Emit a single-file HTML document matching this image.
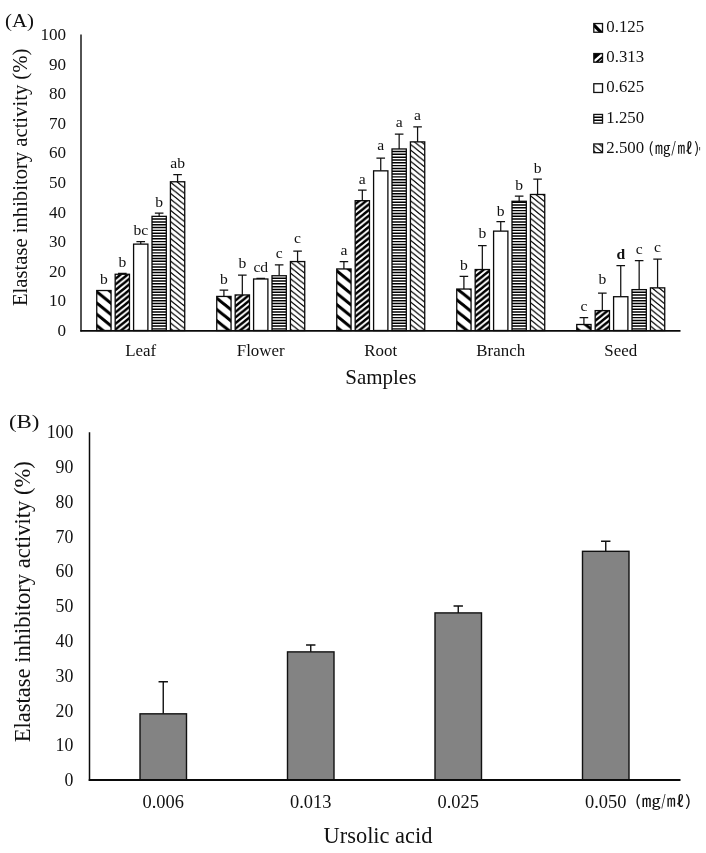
<!DOCTYPE html>
<html lang="en"><head><meta charset="utf-8"><title>Elastase inhibitory activity</title>
<style>
html,body{margin:0;padding:0;background:#fff;}
body{width:706px;height:853px;overflow:hidden;font-family:"Liberation Serif",serif;}
svg text{white-space:pre;}
</style></head><body>
<svg width="706" height="853" viewBox="0 0 706 853" style="display:block">
<defs>
<pattern id="p1" patternUnits="userSpaceOnUse" width="14.0" height="11.26"><rect width="14.0" height="11.26" fill="#fff"/><path d="M-14.00 -22.52 L28.00 11.26 M-14.00 -11.26 L28.00 22.52 M-14.00 0.00 L28.00 33.78" stroke="#000" stroke-width="3.1"/></pattern>
<pattern id="p2" patternUnits="userSpaceOnUse" width="7.0" height="5.63"><rect width="7.0" height="5.63" fill="#fff"/><path d="M-7.00 5.63 L14.00 -11.26 M-7.00 11.26 L14.00 -5.63 M-7.00 16.89 L14.00 0.00" stroke="#000" stroke-width="2.4"/></pattern>
<pattern id="p4" patternUnits="userSpaceOnUse" width="6" height="2.815"><rect width="6" height="2.815" fill="#fff"/><rect y="0.6" width="6" height="1.7" fill="#000"/></pattern>
<pattern id="p5" patternUnits="userSpaceOnUse" width="7.0" height="5.63"><rect width="7.0" height="5.63" fill="#fff"/><path d="M-7.00 -11.26 L14.00 5.63 M-7.00 -5.63 L14.00 11.26 M-7.00 0.00 L14.00 16.89" stroke="#000" stroke-width="1.25"/></pattern>
</defs>
<rect width="706" height="853" fill="#fff"/>
<g font-family='"Liberation Serif", serif' fill="#111">
<text x="5" y="26.6" font-size="18.6" textLength="29" lengthAdjust="spacingAndGlyphs">(A)</text>
<text x="9" y="427.6" font-size="18.6" textLength="30.5" lengthAdjust="spacingAndGlyphs">(B)</text>
<text x="66.1" y="335.70" font-size="17.1" text-anchor="end">0</text>
<text x="66.1" y="306.15" font-size="17.1" text-anchor="end">10</text>
<text x="66.1" y="276.60" font-size="17.1" text-anchor="end">20</text>
<text x="66.1" y="247.05" font-size="17.1" text-anchor="end">30</text>
<text x="66.1" y="217.50" font-size="17.1" text-anchor="end">40</text>
<text x="66.1" y="187.95" font-size="17.1" text-anchor="end">50</text>
<text x="66.1" y="158.40" font-size="17.1" text-anchor="end">60</text>
<text x="66.1" y="128.85" font-size="17.1" text-anchor="end">70</text>
<text x="66.1" y="99.30" font-size="17.1" text-anchor="end">80</text>
<text x="66.1" y="69.75" font-size="17.1" text-anchor="end">90</text>
<text x="66.1" y="40.20" font-size="17.1" text-anchor="end">100</text>
<text transform="translate(26.8,306) rotate(-90)" font-size="20.6" textLength="257.3" lengthAdjust="spacingAndGlyphs">Elastase inhibitory activity (%)</text>
<rect x="96.75" y="290.52" width="14.3" height="39.98" fill="url(#p1)" stroke="#0a0a0a" stroke-width="1.3"/>
<text x="103.90" y="284.17" font-size="15.6" text-anchor="middle">b</text>
<path d="M122.32 274.26 V273.33 M118.02 273.33 H126.62" stroke="#111" stroke-width="1.25" fill="none"/>
<rect x="115.17" y="274.26" width="14.3" height="56.24" fill="url(#p2)" stroke="#0a0a0a" stroke-width="1.3"/>
<text x="122.32" y="267.03" font-size="15.6" text-anchor="middle">b</text>
<path d="M140.74 244.12 V241.71 M136.44 241.71 H145.04" stroke="#111" stroke-width="1.25" fill="none"/>
<rect x="133.59" y="244.12" width="14.3" height="86.38" fill="#fff" stroke="#0a0a0a" stroke-width="1.3"/>
<text x="140.74" y="235.41" font-size="15.6" text-anchor="middle">bc</text>
<path d="M159.16 216.35 V213.05 M154.86 213.05 H163.46" stroke="#111" stroke-width="1.25" fill="none"/>
<rect x="152.01" y="216.35" width="14.3" height="114.15" fill="#fff"/>
<path d="M152.01 328.15h14.3v1.45h-14.3zM152.01 325.34h14.3v1.45h-14.3zM152.01 322.52h14.3v1.45h-14.3zM152.01 319.71h14.3v1.45h-14.3zM152.01 316.89h14.3v1.45h-14.3zM152.01 314.08h14.3v1.45h-14.3zM152.01 311.26h14.3v1.45h-14.3zM152.01 308.45h14.3v1.45h-14.3zM152.01 305.63h14.3v1.45h-14.3zM152.01 302.82h14.3v1.45h-14.3zM152.01 300.00h14.3v1.45h-14.3zM152.01 297.19h14.3v1.45h-14.3zM152.01 294.37h14.3v1.45h-14.3zM152.01 291.56h14.3v1.45h-14.3zM152.01 288.74h14.3v1.45h-14.3zM152.01 285.93h14.3v1.45h-14.3zM152.01 283.11h14.3v1.45h-14.3zM152.01 280.30h14.3v1.45h-14.3zM152.01 277.48h14.3v1.45h-14.3zM152.01 274.67h14.3v1.45h-14.3zM152.01 271.85h14.3v1.45h-14.3zM152.01 269.04h14.3v1.45h-14.3zM152.01 266.22h14.3v1.45h-14.3zM152.01 263.41h14.3v1.45h-14.3zM152.01 260.59h14.3v1.45h-14.3zM152.01 257.78h14.3v1.45h-14.3zM152.01 254.96h14.3v1.45h-14.3zM152.01 252.15h14.3v1.45h-14.3zM152.01 249.33h14.3v1.45h-14.3zM152.01 246.52h14.3v1.45h-14.3zM152.01 243.70h14.3v1.45h-14.3zM152.01 240.89h14.3v1.45h-14.3zM152.01 238.07h14.3v1.45h-14.3zM152.01 235.26h14.3v1.45h-14.3zM152.01 232.44h14.3v1.45h-14.3zM152.01 229.63h14.3v1.45h-14.3zM152.01 226.81h14.3v1.45h-14.3zM152.01 224.00h14.3v1.45h-14.3zM152.01 221.18h14.3v1.45h-14.3zM152.01 218.37h14.3v1.45h-14.3z" fill="#000"/>
<rect x="152.01" y="216.35" width="14.3" height="114.15" fill="none" stroke="#0a0a0a" stroke-width="1.3"/>
<text x="159.16" y="206.75" font-size="15.6" text-anchor="middle">b</text>
<path d="M177.58 181.77 V174.63 M173.28 174.63 H181.88" stroke="#111" stroke-width="1.25" fill="none"/>
<rect x="170.43" y="181.77" width="14.3" height="148.73" fill="url(#p5)" stroke="#0a0a0a" stroke-width="1.3"/>
<text x="177.58" y="167.73" font-size="15.6" text-anchor="middle">ab</text>
<text x="140.70" y="356.3" font-size="16.9" text-anchor="middle">Leaf</text>
<path d="M223.90 296.43 V290.17 M219.60 290.17 H228.20" stroke="#111" stroke-width="1.25" fill="none"/>
<rect x="216.75" y="296.43" width="14.3" height="34.07" fill="url(#p1)" stroke="#0a0a0a" stroke-width="1.3"/>
<text x="223.90" y="283.87" font-size="15.6" text-anchor="middle">b</text>
<path d="M242.32 294.95 V275.10 M238.02 275.10 H246.62" stroke="#111" stroke-width="1.25" fill="none"/>
<rect x="235.17" y="294.95" width="14.3" height="35.55" fill="url(#p2)" stroke="#0a0a0a" stroke-width="1.3"/>
<text x="242.32" y="267.50" font-size="15.6" text-anchor="middle">b</text>
<path d="M260.74 278.99 V278.35 M256.44 278.35 H265.04" stroke="#111" stroke-width="1.25" fill="none"/>
<rect x="253.59" y="278.99" width="14.3" height="51.51" fill="#fff" stroke="#0a0a0a" stroke-width="1.3"/>
<text x="260.74" y="272.05" font-size="15.6" text-anchor="middle">cd</text>
<path d="M279.16 275.74 V264.76 M274.86 264.76 H283.46" stroke="#111" stroke-width="1.25" fill="none"/>
<rect x="272.01" y="275.74" width="14.3" height="54.76" fill="#fff"/>
<path d="M272.01 328.15h14.3v1.45h-14.3zM272.01 325.34h14.3v1.45h-14.3zM272.01 322.52h14.3v1.45h-14.3zM272.01 319.71h14.3v1.45h-14.3zM272.01 316.89h14.3v1.45h-14.3zM272.01 314.08h14.3v1.45h-14.3zM272.01 311.26h14.3v1.45h-14.3zM272.01 308.45h14.3v1.45h-14.3zM272.01 305.63h14.3v1.45h-14.3zM272.01 302.82h14.3v1.45h-14.3zM272.01 300.00h14.3v1.45h-14.3zM272.01 297.19h14.3v1.45h-14.3zM272.01 294.37h14.3v1.45h-14.3zM272.01 291.56h14.3v1.45h-14.3zM272.01 288.74h14.3v1.45h-14.3zM272.01 285.93h14.3v1.45h-14.3zM272.01 283.11h14.3v1.45h-14.3zM272.01 280.30h14.3v1.45h-14.3zM272.01 277.48h14.3v1.45h-14.3z" fill="#000"/>
<rect x="272.01" y="275.74" width="14.3" height="54.76" fill="none" stroke="#0a0a0a" stroke-width="1.3"/>
<text x="279.16" y="257.86" font-size="15.6" text-anchor="middle">c</text>
<path d="M297.58 261.56 V251.16 M293.28 251.16 H301.88" stroke="#111" stroke-width="1.25" fill="none"/>
<rect x="290.43" y="261.56" width="14.3" height="68.94" fill="url(#p5)" stroke="#0a0a0a" stroke-width="1.3"/>
<text x="297.58" y="243.36" font-size="15.6" text-anchor="middle">c</text>
<text x="260.70" y="356.3" font-size="16.9" text-anchor="middle">Flower</text>
<path d="M343.90 268.94 V261.51 M339.60 261.51 H348.20" stroke="#111" stroke-width="1.25" fill="none"/>
<rect x="336.75" y="268.94" width="14.3" height="61.56" fill="url(#p1)" stroke="#0a0a0a" stroke-width="1.3"/>
<text x="343.90" y="255.21" font-size="15.6" text-anchor="middle">a</text>
<path d="M362.32 200.68 V190.00 M358.02 190.00 H366.62" stroke="#111" stroke-width="1.25" fill="none"/>
<rect x="355.17" y="200.68" width="14.3" height="129.82" fill="url(#p2)" stroke="#0a0a0a" stroke-width="1.3"/>
<text x="362.32" y="183.70" font-size="15.6" text-anchor="middle">a</text>
<path d="M380.74 170.84 V158.08 M376.44 158.08 H385.04" stroke="#111" stroke-width="1.25" fill="none"/>
<rect x="373.59" y="170.84" width="14.3" height="159.66" fill="#fff" stroke="#0a0a0a" stroke-width="1.3"/>
<text x="380.74" y="149.58" font-size="15.6" text-anchor="middle">a</text>
<path d="M399.16 148.97 V134.15 M394.86 134.15 H403.46" stroke="#111" stroke-width="1.25" fill="none"/>
<rect x="392.01" y="148.97" width="14.3" height="181.53" fill="#fff"/>
<path d="M392.01 328.15h14.3v1.45h-14.3zM392.01 325.34h14.3v1.45h-14.3zM392.01 322.52h14.3v1.45h-14.3zM392.01 319.71h14.3v1.45h-14.3zM392.01 316.89h14.3v1.45h-14.3zM392.01 314.08h14.3v1.45h-14.3zM392.01 311.26h14.3v1.45h-14.3zM392.01 308.45h14.3v1.45h-14.3zM392.01 305.63h14.3v1.45h-14.3zM392.01 302.82h14.3v1.45h-14.3zM392.01 300.00h14.3v1.45h-14.3zM392.01 297.19h14.3v1.45h-14.3zM392.01 294.37h14.3v1.45h-14.3zM392.01 291.56h14.3v1.45h-14.3zM392.01 288.74h14.3v1.45h-14.3zM392.01 285.93h14.3v1.45h-14.3zM392.01 283.11h14.3v1.45h-14.3zM392.01 280.30h14.3v1.45h-14.3zM392.01 277.48h14.3v1.45h-14.3zM392.01 274.67h14.3v1.45h-14.3zM392.01 271.85h14.3v1.45h-14.3zM392.01 269.04h14.3v1.45h-14.3zM392.01 266.22h14.3v1.45h-14.3zM392.01 263.41h14.3v1.45h-14.3zM392.01 260.59h14.3v1.45h-14.3zM392.01 257.78h14.3v1.45h-14.3zM392.01 254.96h14.3v1.45h-14.3zM392.01 252.15h14.3v1.45h-14.3zM392.01 249.33h14.3v1.45h-14.3zM392.01 246.52h14.3v1.45h-14.3zM392.01 243.70h14.3v1.45h-14.3zM392.01 240.89h14.3v1.45h-14.3zM392.01 238.07h14.3v1.45h-14.3zM392.01 235.26h14.3v1.45h-14.3zM392.01 232.44h14.3v1.45h-14.3zM392.01 229.63h14.3v1.45h-14.3zM392.01 226.81h14.3v1.45h-14.3zM392.01 224.00h14.3v1.45h-14.3zM392.01 221.18h14.3v1.45h-14.3zM392.01 218.37h14.3v1.45h-14.3zM392.01 215.55h14.3v1.45h-14.3zM392.01 212.74h14.3v1.45h-14.3zM392.01 209.92h14.3v1.45h-14.3zM392.01 207.11h14.3v1.45h-14.3zM392.01 204.29h14.3v1.45h-14.3zM392.01 201.48h14.3v1.45h-14.3zM392.01 198.66h14.3v1.45h-14.3zM392.01 195.85h14.3v1.45h-14.3zM392.01 193.03h14.3v1.45h-14.3zM392.01 190.22h14.3v1.45h-14.3zM392.01 187.40h14.3v1.45h-14.3zM392.01 184.59h14.3v1.45h-14.3zM392.01 181.77h14.3v1.45h-14.3zM392.01 178.96h14.3v1.45h-14.3zM392.01 176.14h14.3v1.45h-14.3zM392.01 173.33h14.3v1.45h-14.3zM392.01 170.51h14.3v1.45h-14.3zM392.01 167.70h14.3v1.45h-14.3zM392.01 164.88h14.3v1.45h-14.3zM392.01 162.07h14.3v1.45h-14.3zM392.01 159.25h14.3v1.45h-14.3zM392.01 156.44h14.3v1.45h-14.3zM392.01 153.62h14.3v1.45h-14.3zM392.01 150.81h14.3v1.45h-14.3z" fill="#000"/>
<rect x="392.01" y="148.97" width="14.3" height="181.53" fill="none" stroke="#0a0a0a" stroke-width="1.3"/>
<text x="399.16" y="127.35" font-size="15.6" text-anchor="middle">a</text>
<path d="M417.58 141.88 V126.76 M413.28 126.76 H421.88" stroke="#111" stroke-width="1.25" fill="none"/>
<rect x="410.43" y="141.88" width="14.3" height="188.62" fill="url(#p5)" stroke="#0a0a0a" stroke-width="1.3"/>
<text x="417.58" y="120.46" font-size="15.6" text-anchor="middle">a</text>
<text x="380.70" y="356.3" font-size="16.9" text-anchor="middle">Root</text>
<path d="M463.90 289.04 V276.28 M459.60 276.28 H468.20" stroke="#111" stroke-width="1.25" fill="none"/>
<rect x="456.75" y="289.04" width="14.3" height="41.46" fill="url(#p1)" stroke="#0a0a0a" stroke-width="1.3"/>
<text x="463.90" y="269.98" font-size="15.6" text-anchor="middle">b</text>
<path d="M482.32 269.54 V245.55 M478.02 245.55 H486.62" stroke="#111" stroke-width="1.25" fill="none"/>
<rect x="475.17" y="269.54" width="14.3" height="60.96" fill="url(#p2)" stroke="#0a0a0a" stroke-width="1.3"/>
<text x="482.32" y="238.05" font-size="15.6" text-anchor="middle">b</text>
<path d="M500.74 231.12 V221.61 M496.44 221.61 H505.04" stroke="#111" stroke-width="1.25" fill="none"/>
<rect x="493.59" y="231.12" width="14.3" height="99.38" fill="#fff" stroke="#0a0a0a" stroke-width="1.3"/>
<text x="500.74" y="215.91" font-size="15.6" text-anchor="middle">b</text>
<path d="M519.16 201.28 V196.20 M514.86 196.20 H523.46" stroke="#111" stroke-width="1.25" fill="none"/>
<rect x="512.01" y="201.28" width="14.3" height="129.22" fill="#fff"/>
<path d="M512.01 328.15h14.3v1.45h-14.3zM512.01 325.34h14.3v1.45h-14.3zM512.01 322.52h14.3v1.45h-14.3zM512.01 319.71h14.3v1.45h-14.3zM512.01 316.89h14.3v1.45h-14.3zM512.01 314.08h14.3v1.45h-14.3zM512.01 311.26h14.3v1.45h-14.3zM512.01 308.45h14.3v1.45h-14.3zM512.01 305.63h14.3v1.45h-14.3zM512.01 302.82h14.3v1.45h-14.3zM512.01 300.00h14.3v1.45h-14.3zM512.01 297.19h14.3v1.45h-14.3zM512.01 294.37h14.3v1.45h-14.3zM512.01 291.56h14.3v1.45h-14.3zM512.01 288.74h14.3v1.45h-14.3zM512.01 285.93h14.3v1.45h-14.3zM512.01 283.11h14.3v1.45h-14.3zM512.01 280.30h14.3v1.45h-14.3zM512.01 277.48h14.3v1.45h-14.3zM512.01 274.67h14.3v1.45h-14.3zM512.01 271.85h14.3v1.45h-14.3zM512.01 269.04h14.3v1.45h-14.3zM512.01 266.22h14.3v1.45h-14.3zM512.01 263.41h14.3v1.45h-14.3zM512.01 260.59h14.3v1.45h-14.3zM512.01 257.78h14.3v1.45h-14.3zM512.01 254.96h14.3v1.45h-14.3zM512.01 252.15h14.3v1.45h-14.3zM512.01 249.33h14.3v1.45h-14.3zM512.01 246.52h14.3v1.45h-14.3zM512.01 243.70h14.3v1.45h-14.3zM512.01 240.89h14.3v1.45h-14.3zM512.01 238.07h14.3v1.45h-14.3zM512.01 235.26h14.3v1.45h-14.3zM512.01 232.44h14.3v1.45h-14.3zM512.01 229.63h14.3v1.45h-14.3zM512.01 226.81h14.3v1.45h-14.3zM512.01 224.00h14.3v1.45h-14.3zM512.01 221.18h14.3v1.45h-14.3zM512.01 218.37h14.3v1.45h-14.3zM512.01 215.55h14.3v1.45h-14.3zM512.01 212.74h14.3v1.45h-14.3zM512.01 209.92h14.3v1.45h-14.3zM512.01 207.11h14.3v1.45h-14.3zM512.01 204.29h14.3v1.45h-14.3zM512.01 201.48h14.3v1.45h-14.3z" fill="#000"/>
<rect x="512.01" y="201.28" width="14.3" height="129.22" fill="none" stroke="#0a0a0a" stroke-width="1.3"/>
<text x="519.16" y="189.90" font-size="15.6" text-anchor="middle">b</text>
<path d="M537.58 194.48 V179.06 M533.28 179.06 H541.88" stroke="#111" stroke-width="1.25" fill="none"/>
<rect x="530.43" y="194.48" width="14.3" height="136.02" fill="url(#p5)" stroke="#0a0a0a" stroke-width="1.3"/>
<text x="537.58" y="172.76" font-size="15.6" text-anchor="middle">b</text>
<text x="500.70" y="356.3" font-size="16.9" text-anchor="middle">Branch</text>
<path d="M583.90 324.50 V317.65 M579.60 317.65 H588.20" stroke="#111" stroke-width="1.25" fill="none"/>
<rect x="576.75" y="324.50" width="14.3" height="6.00" fill="url(#p1)" stroke="#0a0a0a" stroke-width="1.3"/>
<text x="583.90" y="311.35" font-size="15.6" text-anchor="middle">c</text>
<path d="M602.32 310.61 V293.13 M598.02 293.13 H606.62" stroke="#111" stroke-width="1.25" fill="none"/>
<rect x="595.17" y="310.61" width="14.3" height="19.89" fill="url(#p2)" stroke="#0a0a0a" stroke-width="1.3"/>
<text x="602.32" y="283.53" font-size="15.6" text-anchor="middle">b</text>
<path d="M620.74 296.72 V265.50 M616.44 265.50 H625.04" stroke="#111" stroke-width="1.25" fill="none"/>
<rect x="613.59" y="296.72" width="14.3" height="33.78" fill="#fff" stroke="#0a0a0a" stroke-width="1.3"/>
<text x="620.74" y="259.20" font-size="15.6" text-anchor="middle" font-weight="bold">d</text>
<path d="M639.16 289.63 V260.62 M634.86 260.62 H643.46" stroke="#111" stroke-width="1.25" fill="none"/>
<rect x="632.01" y="289.63" width="14.3" height="40.87" fill="#fff"/>
<path d="M632.01 328.15h14.3v1.45h-14.3zM632.01 325.34h14.3v1.45h-14.3zM632.01 322.52h14.3v1.45h-14.3zM632.01 319.71h14.3v1.45h-14.3zM632.01 316.89h14.3v1.45h-14.3zM632.01 314.08h14.3v1.45h-14.3zM632.01 311.26h14.3v1.45h-14.3zM632.01 308.45h14.3v1.45h-14.3zM632.01 305.63h14.3v1.45h-14.3zM632.01 302.82h14.3v1.45h-14.3zM632.01 300.00h14.3v1.45h-14.3zM632.01 297.19h14.3v1.45h-14.3zM632.01 294.37h14.3v1.45h-14.3zM632.01 291.56h14.3v1.45h-14.3z" fill="#000"/>
<rect x="632.01" y="289.63" width="14.3" height="40.87" fill="none" stroke="#0a0a0a" stroke-width="1.3"/>
<text x="639.16" y="254.32" font-size="15.6" text-anchor="middle">c</text>
<path d="M657.58 287.86 V259.00 M653.28 259.00 H661.88" stroke="#111" stroke-width="1.25" fill="none"/>
<rect x="650.43" y="287.86" width="14.3" height="42.64" fill="url(#p5)" stroke="#0a0a0a" stroke-width="1.3"/>
<text x="657.58" y="251.90" font-size="15.6" text-anchor="middle">c</text>
<text x="620.70" y="356.3" font-size="16.9" text-anchor="middle">Seed</text>
<path d="M81.0 34.5 V331.4" stroke="#0a0a0a" stroke-width="1.4" fill="none"/>
<path d="M80.3 330.9 H680.5" stroke="#0a0a0a" stroke-width="1.8" fill="none"/>
<text x="380.8" y="384.2" font-size="21" text-anchor="middle">Samples</text>
<svg x="593.8" y="23.55" width="8.7" height="8.7" viewBox="0 0 8.7 8.7" overflow="hidden"><rect width="8.7" height="8.7" fill="#fff"/><path d="M-1 0.5L9.7 11.2" stroke="#000" stroke-width="3.3"/></svg>
<rect x="593.8" y="23.55" width="8.7" height="8.7" fill="none" stroke="#111" stroke-width="1.3"/>
<text x="606.3" y="31.90" font-size="16.8">0.125</text>
<svg x="593.8" y="53.55" width="8.7" height="8.7" viewBox="0 0 8.7 8.7" overflow="hidden"><rect width="8.7" height="8.7" fill="#000"/><path d="M0.3 7.799999999999999L8.399999999999999 0.9" stroke="#fff" stroke-width="2.3"/><path d="M5.1 8.299999999999999L8.299999999999999 5.499999999999999" stroke="#ddd" stroke-width="1.1"/></svg>
<rect x="593.8" y="53.55" width="8.7" height="8.7" fill="none" stroke="#111" stroke-width="1.3"/>
<text x="606.3" y="61.90" font-size="16.8">0.313</text>
<rect x="593.8" y="83.75" width="8.7" height="8.7" fill="#fff" stroke="#111" stroke-width="1.3"/>
<text x="606.3" y="92.40" font-size="16.8">0.625</text>
<rect x="593.8" y="114.45" width="8.7" height="8.7" fill="#fff"/>
<path d="M593.8 117.20h8.7M593.8 120.20h8.7" stroke="#000" stroke-width="1.6"/>
<rect x="593.8" y="114.45" width="8.7" height="8.7" fill="none" stroke="#111" stroke-width="1.3"/>
<text x="606.3" y="123.00" font-size="16.8">1.250</text>
<rect x="593.8" y="143.95" width="8.7" height="8.7" fill="url(#p5)" stroke="#111" stroke-width="1.3"/>
<text x="606.3" y="152.60" font-size="16.8">2.500</text>
</g>
<g font-family='"Noto Sans CJK KR", "NanumGothic", sans-serif' font-size="14.8" fill="#111">
<text transform="translate(648.15,152.6) scale(1.065,1)">(</text>
<text transform="translate(654.99,152.6) scale(1.055,1)">㎎</text>
<text transform="translate(671.37,152.6) scale(0.794,1)">/</text>
<text transform="translate(677.51,152.6) scale(1.028,1)">㎖</text>
<text transform="translate(694.36,152.6) scale(1.027,1)">)</text>
</g>
<rect x="699.2" y="147" width="0.9" height="3.4" fill="#333"/>
<g font-family='"Liberation Serif", serif' fill="#111">
<text x="73.3" y="786.10" font-size="17.8" text-anchor="end">0</text>
<text x="73.3" y="751.30" font-size="17.8" text-anchor="end">10</text>
<text x="73.3" y="716.50" font-size="17.8" text-anchor="end">20</text>
<text x="73.3" y="681.70" font-size="17.8" text-anchor="end">30</text>
<text x="73.3" y="646.90" font-size="17.8" text-anchor="end">40</text>
<text x="73.3" y="612.10" font-size="17.8" text-anchor="end">50</text>
<text x="73.3" y="577.30" font-size="17.8" text-anchor="end">60</text>
<text x="73.3" y="542.50" font-size="17.8" text-anchor="end">70</text>
<text x="73.3" y="507.70" font-size="17.8" text-anchor="end">80</text>
<text x="73.3" y="472.90" font-size="17.8" text-anchor="end">90</text>
<text x="73.3" y="438.10" font-size="17.8" text-anchor="end">100</text>
<text transform="translate(30.2,742.3) rotate(-90)" font-size="22.4" textLength="281" lengthAdjust="spacingAndGlyphs">Elastase inhibitory activity (%)</text>
<path d="M163.25 713.83 V681.82 M158.55 681.82 H167.95" stroke="#111" stroke-width="1.4" fill="none"/>
<rect x="140.00" y="713.83" width="46.5" height="66.47" fill="#838383" stroke="#111" stroke-width="1.4"/>
<text x="163.25" y="808.3" font-size="18.4" text-anchor="middle">0.006</text>
<path d="M310.75 651.89 V644.93 M306.05 644.93 H315.45" stroke="#111" stroke-width="1.4" fill="none"/>
<rect x="287.50" y="651.89" width="46.5" height="128.41" fill="#838383" stroke="#111" stroke-width="1.4"/>
<text x="310.75" y="808.3" font-size="18.4" text-anchor="middle">0.013</text>
<path d="M458.25 612.91 V605.95 M453.55 605.95 H462.95" stroke="#111" stroke-width="1.4" fill="none"/>
<rect x="435.00" y="612.91" width="46.5" height="167.39" fill="#838383" stroke="#111" stroke-width="1.4"/>
<text x="458.25" y="808.3" font-size="18.4" text-anchor="middle">0.025</text>
<path d="M605.75 551.32 V541.22 M601.05 541.22 H610.45" stroke="#111" stroke-width="1.4" fill="none"/>
<rect x="582.50" y="551.32" width="46.5" height="228.98" fill="#838383" stroke="#111" stroke-width="1.4"/>
<text x="605.75" y="808.3" font-size="18.4" text-anchor="middle">0.050</text>
<path d="M89.5 432.3 V780.9" stroke="#0a0a0a" stroke-width="1.5" fill="none"/>
<path d="M88.75 780.0999999999999 H680.5" stroke="#0a0a0a" stroke-width="2" fill="none"/>
<text x="378" y="842.9" font-size="22.4" text-anchor="middle">Ursolic acid</text>
</g>
<g font-family='"Noto Sans CJK KR", "NanumGothic", sans-serif' font-size="14.8" fill="#111">
<text transform="translate(634.72,806.3) scale(1.232,1)">(</text>
<text transform="translate(641.85,806.3) scale(1.294,1)">㎎</text>
<text transform="translate(661.28,806.3) scale(0.757,1)">/</text>
<text transform="translate(666.71,806.3) scale(1.202,1)">㎖</text>
<text transform="translate(685.00,806.3) scale(1.292,1)">)</text>
</g>
</svg>
</body></html>
